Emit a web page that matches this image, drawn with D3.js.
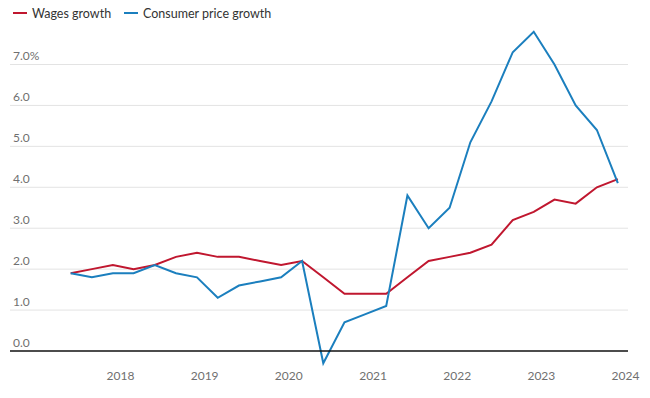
<!DOCTYPE html>
<html>
  <head>
    <meta charset="utf-8">
    <script src="https://cdn.jsdelivr.net/npm/d3@7"></script>
    <style>
      body { margin: 0; background: #fff; }
      text { font-family: Lato, "Open Sans", sans-serif; }
    </style>
  </head>
  <body>
    <svg id="chart" width="650" height="398"></svg>
    <script>
        // quarterly observations
        var quarters = ["2017-06","2017-09","2017-12","2018-03","2018-06","2018-09","2018-12",
                        "2019-03","2019-06","2019-09","2019-12","2020-03","2020-06","2020-09",
                        "2020-12","2021-03","2021-06","2021-09","2021-12","2022-03","2022-06",
                        "2022-09","2022-12","2023-03","2023-06","2023-09","2023-12"];
        var wages = [1.9, 2.0, 2.1, 2.0, 2.1, 2.3, 2.4, 2.3, 2.3, 2.2, 2.1, 2.2, 1.8, 1.4,
                     1.4, 1.4, 1.8, 2.2, 2.3, 2.4, 2.6, 3.2, 3.4, 3.7, 3.6, 4.0, 4.2];
        var cpi = [1.9, 1.8, 1.9, 1.9, 2.1, 1.9, 1.8, 1.3, 1.6, 1.7, 1.8, 2.2, -0.3, 0.7,
                   0.9, 1.1, 3.8, 3.0, 3.5, 5.1, 6.1, 7.3, 7.8, 7.0, 6.0, 5.4, 4.1];
        var yTicks = [0, 1, 2, 3, 4, 5, 6, 7];
        var xTicks = ["2018","2019","2020","2021","2022","2023","2024"];

        var series = [
          { name: "Wages growth", color: "#c0172f", values: wages },
          { name: "Consumer price growth", color: "#1b7fbe", values: cpi }
        ];

        var parse = d3.timeParse("%Y-%m");
        var dates = quarters.map(function(q) { return parse(q); });

        var svg = d3.select("#chart");
        var left = 10, right = 628;

        var x = d3.scaleTime()
          .domain([new Date(2018, 0, 1), new Date(2024, 0, 1)])
          .range([120, 625]);
        var y = d3.scaleLinear().domain([0, 7]).range([351, 64.5]);

        // gridlines + labels
        var grid = svg.append("g");
        grid.selectAll("line").data(yTicks.filter(function(d){ return d > 0; })).enter().append("line")
          .attr("x1", left).attr("x2", right)
          .attr("y1", function(d) { return y(d); })
          .attr("y2", function(d) { return y(d); })
          .attr("stroke", "#e3e3e3").attr("stroke-width", 1);

        grid.selectAll("text").data(yTicks).enter().append("text")
          .attr("x", left + 3)
          .attr("y", function(d) { return y(d) - 4.5; })
          .attr("font-size", 12)
          .attr("fill", "#707070")
          .text(function(d) { return d === 7 ? d.toFixed(1) + "%" : d.toFixed(1); });

        // x axis labels
        var xAxis = d3.axisBottom(x)
          .tickValues(xTicks.map(function(t) { return new Date(+t, 0, 1); }))
          .tickFormat(d3.timeFormat("%Y"))
          .tickSize(0).tickPadding(0);
        var gx = svg.append("g").attr("transform", "translate(0,371.5)").call(xAxis);
        gx.select(".domain").remove();
        gx.selectAll("text").attr("font-size", 12).attr("fill", "#707070")
          .attr("font-family", "Lato, sans-serif");

        // lines
        var line = d3.line()
          .x(function(d, i) { return x(dates[i]); })
          .y(function(d) { return y(d); });

        svg.selectAll("path.series").data(series).enter().append("path")
          .attr("class", "series")
          .attr("d", function(s) { return line(s.values); })
          .attr("fill", "none")
          .attr("stroke", function(s) { return s.color; })
          .attr("stroke-width", 2)
          .attr("stroke-linejoin", "miter");

        // zero line
        svg.append("line")
          .attr("x1", left).attr("x2", right)
          .attr("y1", y(0)).attr("y2", y(0))
          .attr("stroke", "#111").attr("stroke-width", 1.5);

        // legend
        var legend = svg.append("g");
        var lx = [13, 124];
        series.forEach(function(s, i) {
          legend.append("line")
            .attr("x1", lx[i]).attr("x2", lx[i] + 14)
            .attr("y1", 13).attr("y2", 13)
            .attr("stroke", s.color).attr("stroke-width", 2);
          legend.append("text")
            .attr("x", lx[i] + 19).attr("y", 17.5)
            .attr("font-size", 12.5).attr("fill", "#333")
            .text(s.name);
        });
    </script>
  </body>
</html>
